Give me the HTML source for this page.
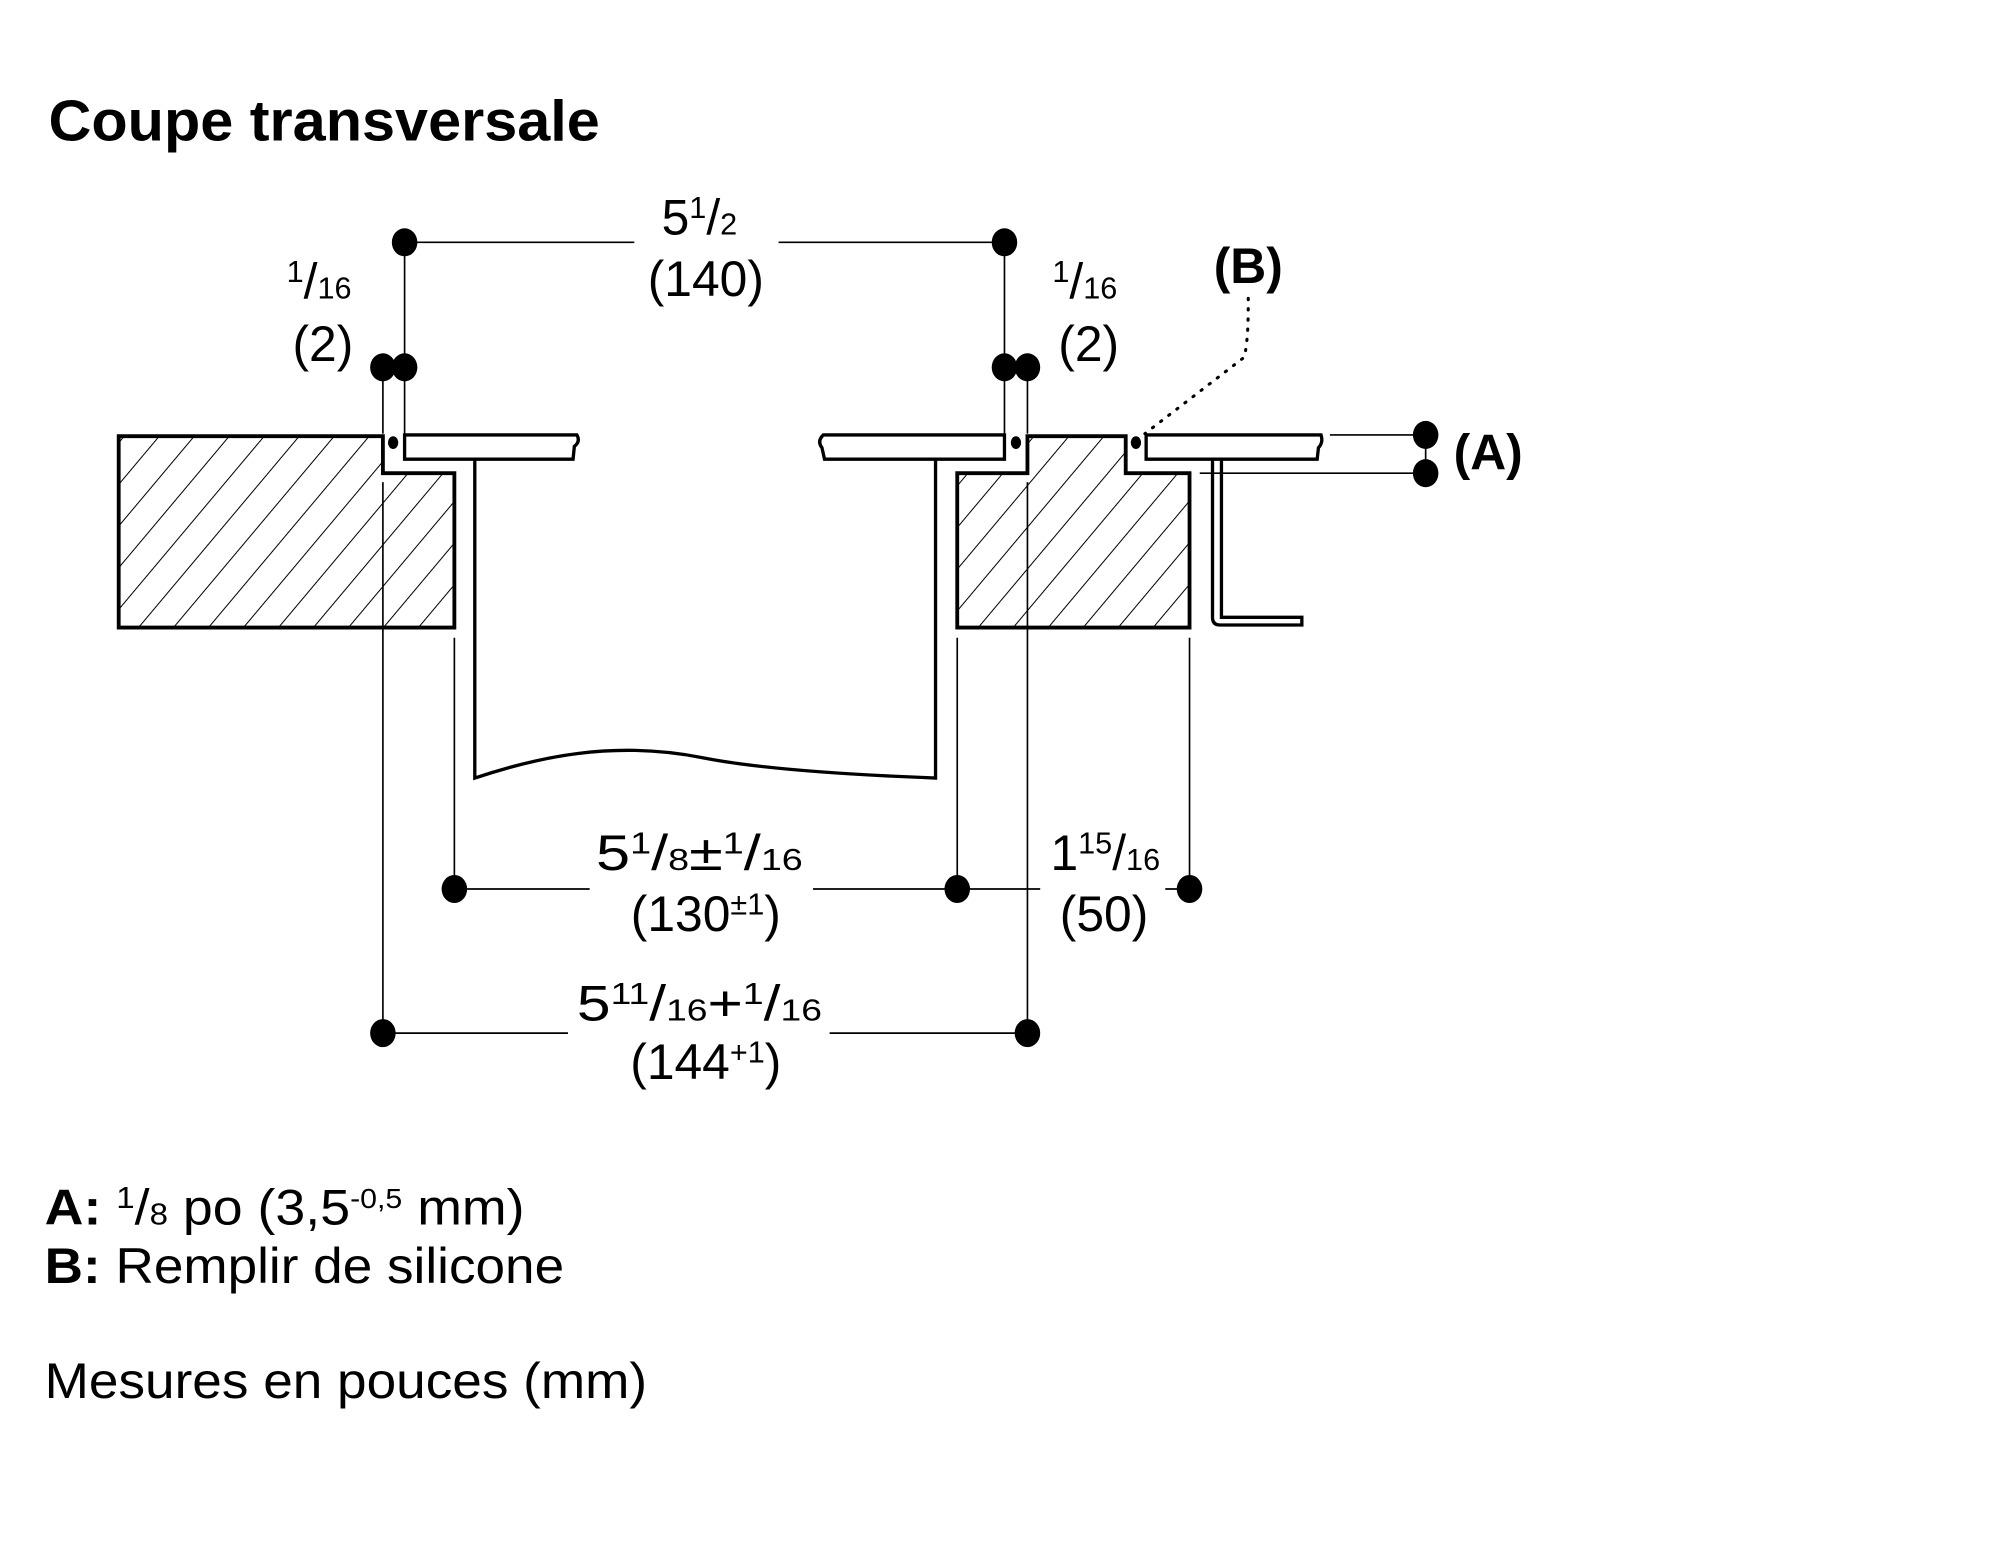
<!DOCTYPE html>
<html><head><meta charset="utf-8"><style>
html,body{margin:0;padding:0;background:#fff;}
svg{display:block;}
text{font-family:"Liberation Sans",sans-serif;fill:#000;}
</style></head><body>
<svg width="2000" height="1565" viewBox="0 0 1567 1227" preserveAspectRatio="none" xmlns="http://www.w3.org/2000/svg">
<defs>
<pattern id="h" width="21" height="21" patternUnits="userSpaceOnUse" patternTransform="rotate(40)">
<line x1="0" y1="0" x2="0" y2="21" stroke="#000" stroke-width="1.6"/>
</pattern>
</defs>
<text x="38" y="110" font-size="45" font-weight="bold" textLength="432" lengthAdjust="spacingAndGlyphs">Coupe transversale</text>

<g stroke="#000" stroke-width="1.3" fill="none">
<line x1="317" y1="190" x2="497" y2="190"/><line x1="610" y1="190" x2="787" y2="190"/>
<line x1="317" y1="190" x2="317" y2="340"/><line x1="300" y1="288" x2="300" y2="340"/>
<line x1="787" y1="190" x2="787" y2="340"/><line x1="805" y1="288" x2="805" y2="340"/>
<line x1="1042" y1="341" x2="1117" y2="341"/><line x1="940" y1="371" x2="1117" y2="371"/>
<line x1="1117" y1="341" x2="1117" y2="371"/>
<line x1="300" y1="378" x2="300" y2="810"/><line x1="805" y1="378" x2="805" y2="810"/>
<line x1="356" y1="500" x2="356" y2="697"/><line x1="750" y1="500" x2="750" y2="697"/>
<line x1="932" y1="500" x2="932" y2="697"/>
<line x1="356" y1="697" x2="462" y2="697"/><line x1="637" y1="697" x2="815" y2="697"/>
<line x1="913" y1="697" x2="932" y2="697"/>
<line x1="300" y1="810" x2="445" y2="810"/><line x1="650" y1="810" x2="805" y2="810"/>
</g>

<g stroke="#000" stroke-width="3" fill="url(#h)">
<path d="M93,342 L300,342 L300,371 L356,371 L356,492 L93,492 Z"/>
<path d="M805,342 L882,342 L882,371 L932,371 L932,492 L750,492 L750,371 L805,371 Z"/>
</g>
<g stroke="#000" stroke-width="2.6" fill="#fff">
<path d="M317,341 L452,341 Q455,346 450,350 L449,360 L317,360 Z"/>
<path d="M787,341 L645,341 Q640,346 644,351 L646,360 L787,360 Z"/>
<path d="M898,341 L1035,341 Q1037,347 1033,351 L1032,360 L898,360 Z"/>
</g>
<g stroke="#000" stroke-width="2.6" fill="none">
<path d="M372,360 L372,610 C420,594 480,580 550,594 C600,604 680,608 733,610 L733,360"/>
<path d="M950,360 L950,484 Q950,490 956,490 L1020,490 L1020,484 L957,484 L957,360"/>
</g>
<path d="M978,234 C978,250 978,265 975,280 L897,340" stroke="#000" stroke-width="2.4" stroke-dasharray="1 7" stroke-linecap="round" fill="none"/>

<g fill="#000">
<ellipse cx="317" cy="190" rx="10" ry="11"/><ellipse cx="787" cy="190" rx="10" ry="11"/>
<ellipse cx="300" cy="288" rx="10" ry="11"/><ellipse cx="317" cy="288" rx="10" ry="11"/>
<ellipse cx="787" cy="288" rx="10" ry="11"/><ellipse cx="805" cy="288" rx="10" ry="11"/>
<ellipse cx="1117" cy="341" rx="10" ry="11"/><ellipse cx="1117" cy="371" rx="10" ry="11"/>
<ellipse cx="356" cy="697" rx="10" ry="11"/><ellipse cx="750" cy="697" rx="10" ry="11"/>
<ellipse cx="932" cy="697" rx="10" ry="11"/>
<ellipse cx="300" cy="810" rx="10" ry="11"/><ellipse cx="805" cy="810" rx="10" ry="11"/>
<ellipse cx="308" cy="347" rx="4" ry="5"/><ellipse cx="796" cy="347" rx="4" ry="5"/><ellipse cx="890" cy="347" rx="4" ry="5"/>
</g>

<g font-size="39" text-anchor="middle">
<text x="548" y="184">5<tspan font-size="24" dy="-13">1</tspan><tspan dy="13">/</tspan><tspan font-size="24">2</tspan></text>
<text x="553" y="232">(140)</text>
<text x="250" y="234"><tspan font-size="24" dy="-13">1</tspan><tspan dy="13">/</tspan><tspan font-size="24">16</tspan></text>
<text x="253" y="283">(2)</text>
<text x="850" y="234"><tspan font-size="24" dy="-13">1</tspan><tspan dy="13">/</tspan><tspan font-size="24">16</tspan></text>
<text x="853" y="283">(2)</text>
<text x="978" y="222" font-weight="bold">(B)</text>
<text x="1166" y="368" font-weight="bold">(A)</text>
<text x="548" y="682" textLength="162" lengthAdjust="spacingAndGlyphs">5<tspan font-size="24" dy="-13">1</tspan><tspan dy="13">/</tspan><tspan font-size="24">8</tspan>±<tspan font-size="24" dy="-13">1</tspan><tspan dy="13">/</tspan><tspan font-size="24">16</tspan></text>
<text x="553" y="730">(130<tspan font-size="24" dy="-13">±1</tspan><tspan dy="13">)</tspan></text>
<text x="866" y="682">1<tspan font-size="24" dy="-13">15</tspan><tspan dy="13">/</tspan><tspan font-size="24">16</tspan></text>
<text x="865" y="730">(50)</text>
<text x="548" y="800" textLength="192" lengthAdjust="spacingAndGlyphs">5<tspan font-size="24" dy="-13">11</tspan><tspan dy="13">/</tspan><tspan font-size="24">16</tspan>+<tspan font-size="24" dy="-13">1</tspan><tspan dy="13">/</tspan><tspan font-size="24">16</tspan></text>
<text x="553" y="846">(144<tspan font-size="24" dy="-13">+1</tspan><tspan dy="13">)</tspan></text>
</g>

<g font-size="39">
<text x="35" y="960" textLength="376" lengthAdjust="spacingAndGlyphs"><tspan font-weight="bold">A:</tspan> <tspan font-size="24" dy="-13">1</tspan><tspan dy="13">/</tspan><tspan font-size="24">8</tspan> po (3,5<tspan font-size="22" dy="-13">-0,5</tspan><tspan dy="13"> mm)</tspan></text>
<text x="35" y="1006" textLength="407" lengthAdjust="spacingAndGlyphs"><tspan font-weight="bold">B:</tspan> Remplir de silicone</text>
<text x="35" y="1096" textLength="472" lengthAdjust="spacingAndGlyphs">Mesures en pouces (mm)</text>
</g>
</svg>
</body></html>
